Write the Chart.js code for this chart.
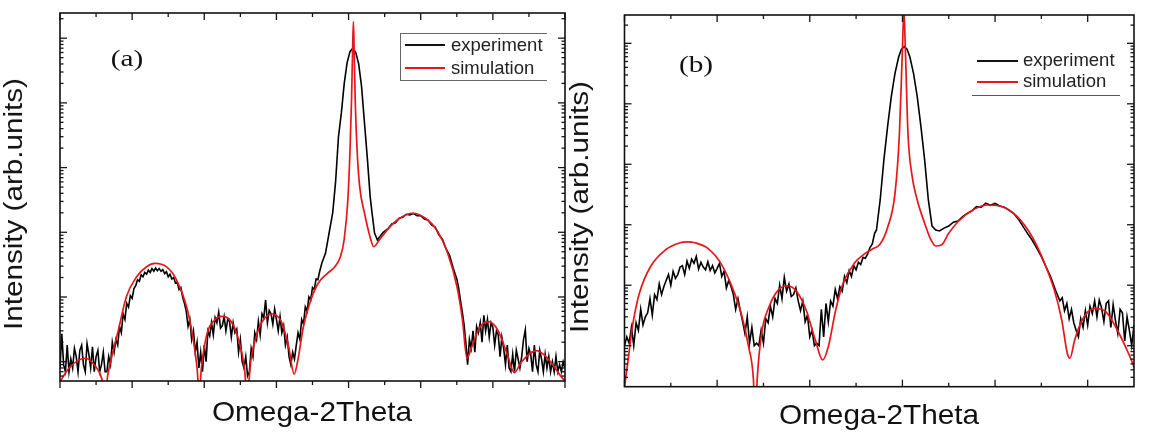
<!DOCTYPE html>
<html>
<head>
<meta charset="utf-8">
<script src="https://cdn.jsdelivr.net/npm/chart.js@4.4.1/dist/chart.umd.min.js"></script>
<style>
  html, body { margin: 0; padding: 0; background: #fff; }
  #wrap { position: relative; width: 1162px; height: 435px; overflow: hidden; background: #fff; }
  canvas { position: absolute; top: 0; }
  .t { position: absolute; white-space: nowrap; color: #111; font-family: "Liberation Sans", Arial, sans-serif; }
  .ytitle { font-size: 25px; line-height: 32px; transform: translate(-50%, -50%) rotate(-90deg) scaleX(1.185); }
  .xtitle { font-size: 28px; line-height: 32px; transform: translateX(-50%) scaleX(1.063); }
  .panel { font-family: "Liberation Serif", "Times New Roman", serif; font-size: 24px; line-height: 24px; transform: translate(-50%, -50%) scaleX(1.22); }
  .leg { font-size: 18.5px; line-height: 20px; color: #222; }
  .ln { position: absolute; height: 0; }
</style>
</head>
<body>
<div id="wrap">
  <canvas id="chartA" width="580" height="435" style="left:0px"></canvas>
  <canvas id="chartB" width="582" height="435" style="left:580px"></canvas>

  <div class="t ytitle" style="left:13px; top:204px;">Intensity (arb.units)</div>
  <div class="t xtitle" style="left:312px; top:396px;">Omega-2Theta</div>
  <div class="t panel" style="left:127px; top:58px;">(a)</div>
  <div style="position:absolute; left:400px; top:33px; width:146px; height:46px; border:1.5px solid #666; border-right:none;"></div>
  <div class="ln" style="left:405px; top:44px; width:40px; border-top:2px solid #111;"></div>
  <div class="ln" style="left:405px; top:67px; width:40px; border-top:2px solid #e8161b;"></div>
  <div class="t leg" style="left:451px; top:35px;">experiment</div>
  <div class="t leg" style="left:451px; top:58px;">simulation</div>

  <div class="t ytitle" style="left:579px; top:207px;">Intensity (arb.units)</div>
  <div class="t xtitle" style="left:879px; top:399px;">Omega-2Theta</div>
  <div class="t panel" style="left:696px; top:64px;">(b)</div>
  <div class="ln" style="left:977px; top:60px; width:41px; border-top:2px solid #111;"></div>
  <div class="ln" style="left:977px; top:81px; width:41px; border-top:2px solid #e8161b;"></div>
  <div class="t leg" style="left:1023px; top:50px;">experiment</div>
  <div class="t leg" style="left:1023px; top:71px;">simulation</div>
  <div class="ln" style="left:972px; top:95px; width:148px; border-top:1.2px solid #555;"></div>
</div>

<script>
// ---------- tick positions (axes carry no labels in the original) ----------
const xMajorA = [0, 1, 2, 3, 4, 5, 6, 7];
const xMinorA = [0.5, 1.5, 2.5, 3.5, 4.5, 5.5, 6.5];
const xMajorB = [0, 1, 2, 3, 4, 5];
const xMinorB = [0.5, 1.5, 2.5, 3.5, 4.5];
const decades = [1, 10, 100, 1000, 10000, 100000, 1000000];

// ---------- panel (a): [omega-2theta (arb.), intensity] ----------
const experimentA = [
[0,8],[0.025,27],[0.05,9],[0.075,7],[0.1,18],[0.125,7],[0.15,11],[0.175,8],[0.2,16],[0.225,12],[0.25,7],[0.275,15],[0.3,18],[0.325,9],[0.35,7],[0.375,19],[0.4,13],[0.425,8],[0.45,17],[0.475,7],[0.5,12],[0.525,15],[0.55,7],[0.575,9],[0.6,14],[0.625,7],[0.65,7],[0.675,12],[0.7,9],[0.725,20],[0.75,14],
[0.775,22],[0.8,18],[0.825,35],[0.85,28],[0.875,55],[0.9,45],[0.925,80],[0.95,70],[0.975,105],[1,95],[1.025,135],[1.05,150],[1.075,185],[1.1,175],[1.125,220],[1.15,205],[1.175,240],[1.2,225],[1.225,260],[1.25,240],[1.275,275],[1.3,250],[1.325,280],[1.35,255],[1.375,275],[1.4,250],[1.425,265],[1.45,230],[1.475,245],[1.5,205],[1.525,225],[1.55,190],[1.575,200],[1.6,165],[1.625,170],[1.65,130],[1.675,140],[1.7,100],[1.725,80],[1.75,60],[1.775,35],[1.8,45],[1.825,22],[1.85,30],[1.875,14],[1.9,20],[1.925,8],[1.95,14],[1.975,7],
[2,18],[2.025,10],[2.05,30],[2.075,25],[2.1,40],[2.125,26],[2.15,48],[2.175,40],[2.2,58],[2.225,33],[2.25,36],[2.275,50],[2.3,30],[2.325,45],[2.35,42],[2.375,24],[2.4,40],[2.425,28],[2.45,32],[2.475,14],[2.5,22],[2.525,10],[2.55,8],[2.575,12],[2.6,6],[2.625,7],[2.65,16],[2.675,12],[2.7,28],[2.725,22],[2.75,42],[2.775,26],[2.8,55],[2.825,48],[2.85,90],[2.875,40],[2.9,62],[2.925,55],[2.95,38],[2.975,65],[3,45],[3.025,30],[3.05,50],[3.075,28],[3.1,36],[3.125,18],[3.15,24],[3.175,12],[3.2,9],[3.225,14],[3.25,11],[3.275,18],[3.3,28],[3.325,22],[3.35,45],[3.375,38],[3.4,70],[3.425,60],[3.45,100],[3.475,90],[3.5,140],[3.525,130],[3.55,190],[3.575,185],[3.6,250],[3.63,335],[3.68,473],[3.73,975],
[3.78,2000],[3.82,6000],[3.86,30000],[3.9,70000],[3.94,200000],[3.98,420000],[4.02,620000],[4.06,700000],[4.1,600000],[4.14,400000],[4.18,180000],[4.22,50000],[4.26,14000],[4.3,3500],[4.33,1800],[4.36,975],[4.4,760],[4.44,880],[4.48,1000],
[4.55,1150],[4.6,1350],[4.65,1400],[4.7,1650],[4.75,1700],[4.8,1900],[4.85,1850],[4.9,1950],[4.95,1800],[5,1800],[5.05,1600],[5.1,1550],[5.15,1300],[5.2,1200],[5.25,920],[5.3,780],[5.35,560],[5.4,440],[5.45,280],[5.5,190],[5.525,140],[5.55,90],[5.575,60],[5.6,38],[5.625,20],
[5.65,9],[5.675,22],[5.7,16],[5.725,30],[5.75,14],[5.775,35],[5.8,28],[5.825,40],[5.85,20],[5.875,52],[5.9,30],[5.925,45],[5.95,24],[5.975,40],[6,34],[6.025,18],[6.05,30],[6.075,26],[6.1,12],[6.125,24],[6.15,16],[6.175,9],[6.2,18],[6.225,8],[6.25,7],[6.275,13],[6.3,7],[6.325,15],[6.35,11],[6.375,8],[6.4,12],[6.425,22],[6.45,31],[6.475,10],[6.5,16],[6.525,13],[6.55,7],[6.575,18],[6.6,9],[6.625,7],[6.65,15],[6.675,11],[6.7,7],[6.725,13],[6.75,8],[6.775,12],[6.8,7],[6.825,10],[6.85,7],[6.875,12],[6.9,7],[6.925,9],[6.95,7],[6.975,10],[7,8]
];
const simulationA = [
[0,4.8],[0.015,5.2],[0.144,8.4],[0.349,11.3],[0.477,8.9],[0.579,5.5],[0.624,3],[0.66,6],[0.717,11.9],[0.81,31],[0.92,101],[1.063,206],[1.2,294],[1.317,331],[1.474,294],[1.617,183],[1.756,70],[1.848,21.6],[1.9,8],[1.93,3],[1.96,8],
[2.04,27.5],[2.143,44],[2.23,50],[2.374,41.5],[2.477,21.6],[2.554,8.4],[2.595,3],[2.646,10.6],[2.733,27.5],[2.836,47],[2.938,54.6],[3.067,41.5],[3.169,17],[3.246,6.4],[3.297,10.6],[3.374,35],[3.477,90],[3.579,163],[3.708,232],[3.81,294],[3.887,420],[3.938,760],
[3.99,3160],[4.02,18700],[4.041,111000],[4.056,657000],[4.067,1800000],[4.077,657000],[4.092,111000],[4.118,18700],[4.154,5070],[4.221,1970],[4.297,855],[4.349,599],[4.426,760],[4.554,1150],[4.708,1650],[4.887,1970],[5.067,1650],[5.221,1090],[5.374,473],[5.503,144],[5.579,44],[5.641,11.3],
[5.708,17],[5.81,32.8],[5.938,41.5],[6.067,30.9],[6.195,13.5],[6.297,6.8],[6.4,10],[6.605,14.8],[6.759,11.3],[6.913,6.6],[7,5]
];

// ---------- panel (b) ----------
const experimentB = [
[0,10],[0.025,14],[0.05,11],[0.075,20],[0.1,10],[0.125,24],[0.15,18],[0.175,40],[0.2,22],[0.225,30],[0.25,35],[0.275,60],[0.3,32],[0.325,70],[0.35,58],[0.375,105],[0.4,70],[0.425,95],[0.45,120],[0.475,150],[0.5,100],[0.525,170],[0.55,130],[0.575,150],[0.6,200],[0.625,210],[0.65,150],[0.675,250],[0.7,190],[0.725,270],[0.75,230],[0.775,300],[0.8,185],[0.825,240],[0.85,200],[0.875,180],[0.9,245],[0.925,175],[0.95,210],[0.975,160],[1,190],[1.025,230],[1.05,140],[1.075,170],[1.1,90],[1.125,120],[1.15,95],[1.175,70],[1.2,40],[1.225,60],[1.25,38],[1.275,25],[1.3,16],[1.325,30],[1.35,11],[1.375,20],[1.4,10],[1.425,11],[1.45,10],[1.475,18],[1.5,11],[1.525,28],[1.55,24],[1.575,45],[1.6,30],[1.625,60],[1.65,50],[1.675,100],[1.7,60],[1.725,135],[1.75,80],[1.775,105],[1.8,65],[1.825,70],[1.85,90],[1.875,55],[1.9,38],[1.925,55],[1.95,25],[1.975,32],
[2,14],[2.025,18],[2.05,10],[2.075,11],[2.1,10],[2.125,40],[2.15,14],[2.175,50],[2.2,25],[2.225,55],[2.25,45],[2.275,85],[2.3,60],[2.325,95],[2.35,80],[2.375,140],[2.4,110],[2.425,175],[2.45,140],[2.475,210],[2.5,180],[2.525,240],[2.55,220],[2.575,290],[2.6,280],[2.625,330],[2.65,420],[2.675,480],[2.7,720],
[2.72,819],[2.76,2570],[2.8,11800],[2.84,41800],[2.88,131000],[2.92,319000],[2.96,600000],[2.99,800000],[3.02,880000],[3.05,800000],[3.08,600000],[3.12,319000],[3.16,131000],[3.2,41800],[3.24,11800],[3.28,2570],[3.32,950],[3.36,820],[3.4,790],[3.45,880],[3.5,950],
[3.55,1100],[3.6,1150],[3.65,1360],[3.7,1545],[3.75,1700],[3.8,1990],[3.85,1950],[3.9,2265],[3.95,2100],[4,2250],[4.05,2050],[4.1,1950],[4.15,1750],[4.2,1545],[4.25,1250],[4.3,950],[4.35,720],[4.4,560],[4.45,410],[4.5,296],[4.55,202],[4.6,138],[4.65,85],[4.7,55],
[4.725,62],[4.75,38],[4.775,50],[4.8,28],[4.825,40],[4.85,24],[4.875,18],[4.9,14],[4.925,28],[4.95,20],[4.975,38],[5,22],[5.025,45],[5.05,34],[5.075,55],[5.1,30],[5.125,57],[5.15,42],[5.175,25],[5.2,50],[5.225,55],[5.25,20],[5.275,48],[5.3,26],[5.325,16],[5.35,40],[5.375,35],[5.4,12],[5.425,30],[5.45,18],[5.475,10],[5.5,22]
];
const simulationB = [
[0,2.1],[0.02,3.5],[0.04,6],[0.07,14],[0.1,28],[0.16,73],[0.28,202],[0.44,382],[0.6,505],[0.68,520],[0.76,505],[0.9,407],[1.04,230],[1.16,95],[1.26,34],[1.34,9.6],[1.392,2.7],[1.412,0.5],[1.432,2.7],[1.48,16],[1.56,44],[1.66,83],[1.76,98],[1.86,78],[1.96,39],[2.06,12.4],[2.14,5.8],[2.2,9.6],[2.28,39],[2.36,108],[2.48,230],[2.6,337],[2.68,400],[2.76,480],[2.84,900],[2.92,3300],
[2.968,32500],[3,780000],[3.016,3500000],[3.032,780000],[3.06,32500],[3.1,7080],[3.16,2570],[3.24,1060],[3.3,597],[3.36,445],[3.42,462],[3.5,721],[3.6,1120],[3.76,1750],[3.92,2120],[4.08,1990],[4.24,1360],[4.4,634],[4.52,261],[4.64,83],[4.72,26.6],[4.78,7.5],[4.808,6.2],[4.86,12.4],[4.94,26.6],[5.08,41.5],[5.2,36],[5.32,18.2],[5.44,7.5],[5.5,4.5]
];

// ---------- frame + inward/outward ticks drawn through the chart's own scales ----------
const frameTicks = {
  id: 'frameTicks',
  afterDatasetsDraw(chart, args, o) {
    const { ctx, chartArea: a } = chart;
    const xs = chart.scales.x, ys = chart.scales.y;
    ctx.save();
    ctx.strokeStyle = '#151515';
    ctx.lineWidth = 1.3;
    const seg = (x1, y1, x2, y2) => { ctx.beginPath(); ctx.moveTo(x1, y1); ctx.lineTo(x2, y2); ctx.stroke(); };
    const xt = (list, len) => list.forEach(v => {
      const p = xs.getPixelForValue(v);
      seg(p, a.bottom, p, a.bottom + o.bottomDir * len);
      seg(p, a.top, p, a.top + len);
    });
    xt(o.xMajor, 7); xt(o.xMinor, 4);
    const [lo, hi] = [ys.min, ys.max];
    decades.forEach(d => {
      if (d >= lo && d <= hi) {
        const p = ys.getPixelForValue(d);
        seg(a.left, p, a.left + 7, p); seg(a.right, p, a.right - 7, p);
      }
      for (let k = 2; k <= 9; k++) {
        const v = k * d;
        if (v > lo && v < hi) {
          const p = ys.getPixelForValue(v);
          seg(a.left, p, a.left + 3.5, p); seg(a.right, p, a.right - 3.5, p);
        }
      }
    });
    ctx.lineWidth = 1.6;
    ctx.strokeStyle = '#111';
    ctx.strokeRect(a.left, a.top, a.right - a.left, a.bottom - a.top);
    ctx.restore();
  }
};

function pts(arr) { return arr.map(([x, y]) => ({ x, y })); }

function makeChart(id, exp, sim, cfg) {
  return new Chart(document.getElementById(id), {
    type: 'line',
    data: {
      datasets: [
        { label: 'simulation', data: pts(sim), borderColor: '#e8161b', borderWidth: 1.7, pointRadius: 0, cubicInterpolationMode: 'monotone', fill: false },
        { label: 'experiment', data: pts(exp), borderColor: '#000', borderWidth: 1.6, pointRadius: 0, tension: 0, fill: false }
      ]
    },
    options: {
      responsive: false,
      animation: false,
      devicePixelRatio: 1,
      layout: { padding: cfg.padding },
      plugins: { legend: { display: false }, tooltip: { enabled: false }, frameTicks: cfg.ticks },
      scales: {
        x: { type: 'linear', min: cfg.xmin, max: cfg.xmax, display: false },
        y: { type: 'logarithmic', min: cfg.ymin, max: cfg.ymax, display: false }
      }
    },
    plugins: [frameTicks]
  });
}

makeChart('chartA', experimentA, simulationA, {
  padding: { left: 60, right: 15, top: 13, bottom: 54 },
  xmin: 0, xmax: 7, ymin: 5.03, ymax: 2.45e6,
  ticks: { xMajor: xMajorA, xMinor: xMinorA, bottomDir: 1 }
});
makeChart('chartB', experimentB, simulationB, {
  padding: { left: 44.5, right: 28, top: 15, bottom: 48.3 },
  xmin: 0, xmax: 5.5, ymin: 2.1, ymax: 2.94e6,
  ticks: { xMajor: xMajorB, xMinor: xMinorB, bottomDir: -1 }
});
</script>
</body>
</html>
